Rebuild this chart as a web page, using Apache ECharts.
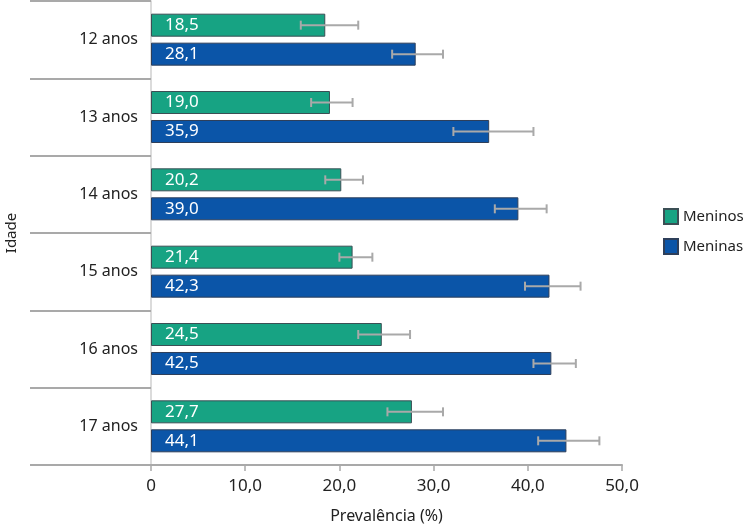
<!DOCTYPE html>
<html>
<head>
<meta charset="utf-8">
<script src="https://cdn.jsdelivr.net/npm/echarts@6/dist/echarts.min.js"></script>
<style>
  html, body { margin: 0; padding: 0; background: #fff; }
  #chart { width: 750px; height: 526px; }
</style>
</head>
<body>
<div id="chart"></div>
<script>
// idades (eixo y)
const categories = ['12 anos', '13 anos', '14 anos', '15 anos', '16 anos', '17 anos'];

// prevalência (%)
const meninos = [18.5, 19.0, 20.2, 21.4, 24.5, 27.7];
const meninas = [28.1, 35.9, 39.0, 42.3, 42.5, 44.1];

// intervalos de confiança
const meninosLow  = [15.9, 17.0, 18.5, 20.0, 22.0, 25.1];
const meninosHigh = [22.0, 21.4, 22.5, 23.5, 27.5, 31.0];
const meninasLow  = [25.6, 32.1, 36.5, 39.7, 40.6, 41.1];
const meninasHigh = [31.0, 40.6, 42.0, 45.6, 45.1, 47.6];

const xTicks = [0, 10, 20, 30, 40, 50];

const FONT = 'Noto Sans';
const GREEN = '#17a383';
const BLUE = '#0b55a8';
const BAR_W = 23;
const BAR_GAP = 6;

function fmt(v) {
  return v === 0 ? '0' : v.toFixed(1).replace('.', ',');
}

// barras de erro: desenhadas por cima das barras
function errorSeries(name, low, high, offset) {
  return {
    type: 'custom',
    name: name + '_ic',
    z: 5,
    silent: true,
    data: categories.map((c, i) => [i, low[i], high[i]]),
    encode: { y: 0, x: [1, 2] },
    renderItem: function (params, api) {
      const idx = api.value(0);
      const p1 = api.coord([api.value(1), idx]);
      const p2 = api.coord([api.value(2), idx]);
      const y = p1[1] + offset;
      const cap = 4.5;
      const style = { stroke: '#a9a9a9', lineWidth: 2 };
      return {
        type: 'group',
        children: [
          { type: 'line', shape: { x1: p1[0], y1: y, x2: p2[0], y2: y }, style: style },
          { type: 'line', shape: { x1: p1[0], y1: y - cap, x2: p1[0], y2: y + cap }, style: style },
          { type: 'line', shape: { x1: p2[0], y1: y - cap, x2: p2[0], y2: y + cap }, style: style }
        ]
      };
    }
  };
}

const chart = echarts.init(document.getElementById('chart'), null, { renderer: 'canvas' });

const barLabel = {
  show: true,
  position: 'insideLeft',
  distance: 14,
  color: '#fff',
  fontFamily: FONT,
  fontSize: 17,
  formatter: p => fmt(p.value)
};

const option = {
  animation: false,
  textStyle: { fontFamily: FONT },
  grid: { left: 151, right: 128, top: 1, bottom: 61, containLabel: false, outerBoundsMode: 'none' },
  legend: {
    orient: 'vertical',
    left: 658,
    top: 203,
    itemWidth: 14,
    itemHeight: 15,
    itemGap: 13,
    icon: 'rect',
    data: ['Meninos', 'Meninas'],
    textStyle: { fontFamily: FONT, fontSize: 15, color: '#222' }
  },
  xAxis: {
    type: 'value',
    min: 0,
    max: 50,
    interval: 10,
    name: 'Prevalência (%)',
    nameLocation: 'middle',
    nameGap: 43,
    nameTextStyle: { fontFamily: FONT, fontSize: 16, color: '#222' },
    axisLine: { show: true, lineStyle: { color: '#a9a9a9', width: 2 } },
    axisTick: { show: true, length: 6, lineStyle: { color: '#a9a9a9', width: 1.5 } },
    splitLine: { show: false },
    axisLabel: {
      fontFamily: FONT, fontSize: 17, color: '#222', margin: 13,
      formatter: v => xTicks.includes(v) ? fmt(v) : ''
    }
  },
  yAxis: {
    type: 'category',
    inverse: true,
    data: categories,
    name: 'Idade',
    nameLocation: 'middle',
    nameGap: 132,
    nameRotate: 90,
    nameTextStyle: { fontFamily: FONT, fontSize: 15, color: '#222' },
    axisLine: { show: true, lineStyle: { color: '#cfcfcf', width: 1.5 } },
    axisTick: { show: true, length: 121, lineStyle: { color: '#a9a9a9', width: 2 } },
    axisLabel: { fontFamily: FONT, fontSize: 16, color: '#222', margin: 13 }
  },
  series: [
    {
      name: 'Meninos',
      type: 'bar',
      data: meninos,
      barWidth: BAR_W,
      barGap: (BAR_GAP / BAR_W * 100).toFixed(0) + '%',
      itemStyle: { color: GREEN, borderColor: '#3b4f55', borderWidth: 1 },
      label: barLabel
    },
    {
      name: 'Meninas',
      type: 'bar',
      data: meninas,
      barWidth: BAR_W,
      barGap: (BAR_GAP / BAR_W * 100).toFixed(0) + '%',
      itemStyle: { color: BLUE, borderColor: '#2e3f5a', borderWidth: 1 },
      label: barLabel
    },
    errorSeries('Meninos', meninosLow, meninosHigh, -(BAR_W + BAR_GAP) / 2),
    errorSeries('Meninas', meninasLow, meninasHigh, (BAR_W + BAR_GAP) / 2)
  ]
};

chart.setOption(option);
</script>
</body>
</html>
